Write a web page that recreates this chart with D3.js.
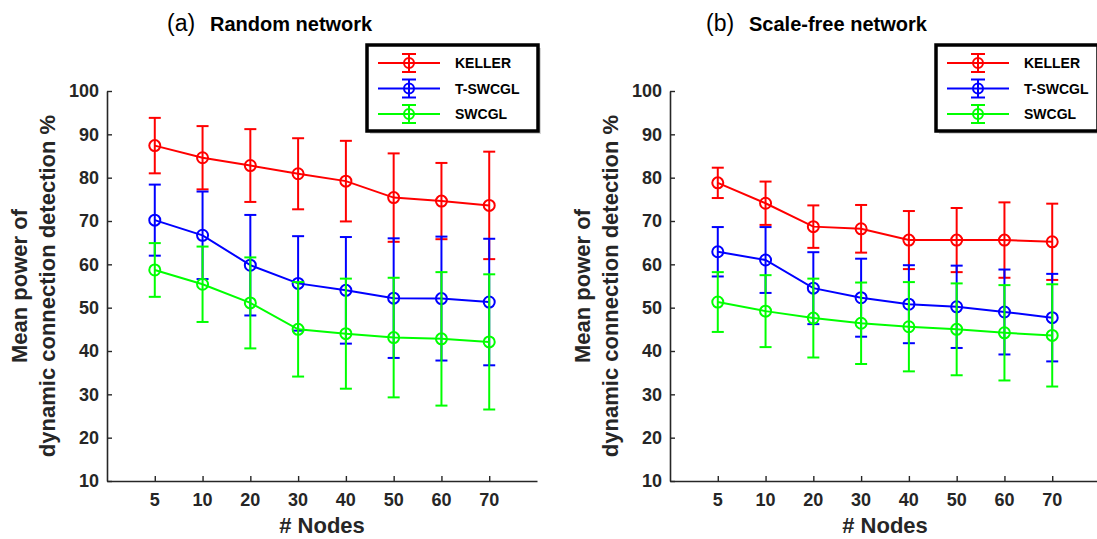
<!DOCTYPE html>
<html>
<head>
<meta charset="utf-8">
<script src="https://cdn.jsdelivr.net/npm/d3@7/dist/d3.min.js"></script>
<style>
  html, body { margin: 0; padding: 0; background: #fff; }
  svg { display: block; font-family: "Liberation Sans", Arial, sans-serif; }
</style>
</head>
<body>
<svg id="chart" width="1097" height="539"></svg>
<script>
// ── Data ──────────────────────────────────────────────────────────────────────
const nodes   = [5, 10, 20, 30, 40, 50, 60, 70];
const methods = ['KELLER', 'T-SWCGL', 'SWCGL'];
const colors  = ['#ff0000', '#0000ff', '#00ff00'];
const yTicks  = [10, 20, 30, 40, 50, 60, 70, 80, 90, 100];

// (a) Random network: means and error half-widths
const randKeller     = [87.4, 84.6, 82.8, 80.9, 79.2, 75.4, 74.6, 73.6];
const randKellerErr  = [6.4, 7.3, 8.4, 8.2, 9.3, 10.2, 8.8, 12.4];
const randTswcgl     = [70.2, 66.7, 59.8, 55.6, 54.0, 52.2, 52.1, 51.3];
const randTswcglErr  = [8.2, 10.1, 11.6, 10.9, 12.3, 13.8, 14.3, 14.6];
const randSwcgl      = [58.7, 55.4, 51.1, 45.0, 44.0, 43.1, 42.8, 42.1];
const randSwcglErr   = [6.2, 8.7, 10.5, 10.9, 12.7, 13.8, 15.4, 15.6];

// (b) Scale-free network
const sfKeller       = [78.8, 74.1, 68.7, 68.2, 65.6, 65.6, 65.6, 65.2];
const sfKellerErr    = [3.5, 5.0, 4.9, 5.5, 6.7, 7.4, 8.7, 8.8];
const sfTswcgl       = [62.9, 61.0, 54.5, 52.3, 50.8, 50.2, 49.0, 47.7];
const sfTswcglErr    = [5.7, 7.6, 8.3, 9.0, 9.0, 9.5, 9.8, 10.1];
const sfSwcgl        = [51.3, 49.2, 47.6, 46.4, 45.6, 45.0, 44.2, 43.6];
const sfSwcglErr     = [6.9, 8.3, 9.1, 9.4, 10.3, 10.6, 11.0, 11.8];

const panels = [
  { tag: '(a)', title: 'Random network', left: 107, titleX: 167,
    series: [[randKeller, randKellerErr], [randTswcgl, randTswcglErr], [randSwcgl, randSwcglErr]],
    legend: { x: 367, y: 45, w: 171, h: 86 } },
  { tag: '(b)', title: 'Scale-free network', left: 670, titleX: 706,
    series: [[sfKeller, sfKellerErr], [sfTswcgl, sfTswcglErr], [sfSwcgl, sfSwcglErr]],
    legend: { x: 936, y: 45, w: 162, h: 86 } }
];

// ── Layout ────────────────────────────────────────────────────────────────────
const svg = d3.select('#chart');
const TOP = 91, BOTTOM = 481, PLOT_W = 430;
const AXIS = '#262626';

panels.forEach(p => {
  const g = svg.append('g');
  const x = d3.scaleLinear().domain([0, nodes.length + 1]).range([p.left, p.left + PLOT_W]);
  const y = d3.scaleLinear().domain([10, 100]).range([BOTTOM, TOP]);

  // axes (MATLAB style: ticks pointing inward, left + bottom only)
  const yAxis = g.append('g').attr('transform', `translate(${p.left},0)`)
    .call(d3.axisRight(y).tickValues(yTicks).tickSize(5).tickSizeOuter(0).tickFormat(''));
  const xAxis = g.append('g').attr('transform', `translate(0,${BOTTOM})`)
    .call(d3.axisTop(x).tickValues(d3.range(1, nodes.length + 1)).tickSize(5).tickSizeOuter(0).tickFormat(''));
  [xAxis, yAxis].forEach(a => {
    a.select('.domain').attr('stroke', AXIS).attr('stroke-width', 1.6);
    a.selectAll('.tick line').attr('stroke', AXIS).attr('stroke-width', 1.4);
  });

  // tick labels
  g.selectAll('.ylab').data(yTicks).join('text')
    .attr('x', p.left - 8).attr('y', d => y(d)).attr('dy', '0.36em')
    .attr('text-anchor', 'end').attr('font-size', 18).attr('font-weight', 'bold')
    .attr('fill', '#262626').text(d => d);
  g.selectAll('.xlab').data(nodes).join('text')
    .attr('x', (d, i) => x(i + 1)).attr('y', BOTTOM + 25)
    .attr('text-anchor', 'middle').attr('font-size', 18).attr('font-weight', 'bold')
    .attr('fill', '#262626').text(d => d);

  // axis titles
  g.append('text').attr('x', x(4.5)).attr('y', BOTTOM + 52)
    .attr('text-anchor', 'middle').attr('font-size', 22).attr('font-weight', 'bold')
    .attr('fill', '#262626').text('# Nodes');
  const yt = g.append('text')
    .attr('transform', `translate(${p.left - 52},${(TOP + BOTTOM) / 2}) rotate(-90)`)
    .attr('text-anchor', 'middle').attr('font-size', 22).attr('font-weight', 'bold')
    .attr('fill', '#262626');
  yt.append('tspan').attr('x', 0).attr('y', -28).text('Mean power of');
  yt.append('tspan').attr('x', 0).attr('y', 0).text('dynamic connection detection %');

  // panel title
  g.append('text').attr('x', p.titleX).attr('y', 31)
    .attr('font-size', 23).attr('fill', '#000').text(p.tag);
  g.append('text').attr('x', p.titleX + 43).attr('y', 31)
    .attr('font-size', 20).attr('font-weight', 'bold').attr('fill', '#000').text(p.title);

  // series: red, then blue, then green on top
  p.series.forEach(([mean, err], si) => {
    const c = colors[si];
    const sg = g.append('g').attr('stroke', c).attr('stroke-width', 2).attr('fill', 'none');
    const line = d3.line().x((d, i) => x(i + 1)).y(d => y(d));
    sg.append('path').attr('d', line(mean));
    mean.forEach((m, i) => {
      const cx = x(i + 1), lo = y(m - err[i]), hi = y(m + err[i]);
      sg.append('line').attr('x1', cx).attr('x2', cx).attr('y1', lo).attr('y2', hi);
      sg.append('line').attr('x1', cx - 6).attr('x2', cx + 6).attr('y1', lo).attr('y2', lo);
      sg.append('line').attr('x1', cx - 6).attr('x2', cx + 6).attr('y1', hi).attr('y2', hi);
      sg.append('circle').attr('cx', cx).attr('cy', y(m)).attr('r', 5.5);
    });
  });

  // legend
  const L = p.legend;
  const lg = g.append('g');
  lg.append('rect').attr('x', L.x + 3).attr('y', L.y + 3).attr('width', L.w).attr('height', L.h)
    .attr('fill', '#bbb').attr('opacity', 0.6);
  lg.append('rect').attr('x', L.x).attr('y', L.y).attr('width', L.w).attr('height', L.h)
    .attr('fill', '#fff').attr('stroke', '#000').attr('stroke-width', 3.5);
  methods.forEach((name, i) => {
    const ly = L.y + 18 + i * 25.5;
    const lx = L.x + 11, mx = L.x + 42;
    const c = colors[i];
    const e = lg.append('g').attr('stroke', c).attr('stroke-width', 2).attr('fill', 'none');
    e.append('line').attr('x1', lx).attr('x2', lx + 62).attr('y1', ly).attr('y2', ly);
    e.append('line').attr('x1', mx).attr('x2', mx).attr('y1', ly - 9).attr('y2', ly + 9);
    e.append('line').attr('x1', mx - 7).attr('x2', mx + 7).attr('y1', ly - 9).attr('y2', ly - 9);
    e.append('line').attr('x1', mx - 7).attr('x2', mx + 7).attr('y1', ly + 9).attr('y2', ly + 9);
    e.append('circle').attr('cx', mx).attr('cy', ly).attr('r', 5);
    lg.append('text').attr('x', L.x + 88).attr('y', ly).attr('dy', '0.36em')
      .attr('font-size', 14).attr('font-weight', 'bold').attr('fill', '#000').text(name);
  });
});
</script>
</body>
</html>
